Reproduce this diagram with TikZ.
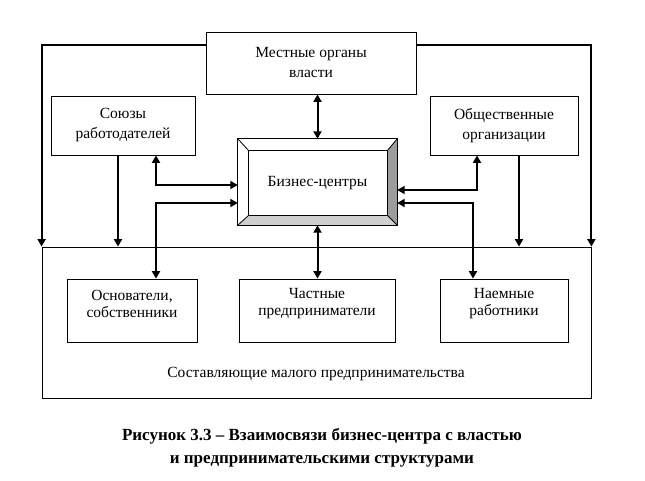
\documentclass[tikz,border=0pt]{standalone}
\usepackage{fontspec}
\setmainfont{Liberation Serif}
\usetikzlibrary{arrows.meta,calc}
\begin{document}
\begin{tikzpicture}[x=1pt,y=-1pt,
  box/.style={draw, line width=0.8pt, inner sep=0pt, align=center, font=\fontsize{15.5}{20}\selectfont},
  txt/.style={inner sep=0pt, align=center, font=\fontsize{15.5}{17}\selectfont},
  arr/.style={line width=2pt, >={Triangle[length=7.5pt,width=8pt]}},
  thin/.style={line width=0.8pt},
]
\useasboundingbox (0,0) rectangle (645,481);
% big box
\node[box, minimum width=549pt, minimum height=151pt] (big) at (316.5,322.5) {};
\node[txt] (lbl) at (316,374) {Составляющие малого предпринимательства};
% top boxes
\node[box, minimum width=210pt, minimum height=62pt] (top) at (311,63) {Местные органы\\власти};
\node[box, minimum width=144pt, minimum height=59pt] (soyuz) at (123,125.5) {Союзы\\работодателей};
\node[box, minimum width=148pt, minimum height=59pt] (obsh) at (504,125.5) {Общественные\\организации};
% bottom boxes
\node[box, minimum width=130pt, minimum height=63pt] (osn) at (132,310.5) {};
\node[txt] (osnt) at (132,304) {Основатели,\\собственники};
\node[box, minimum width=156pt, minimum height=63pt] (chast) at (317,310.5) {};
\node[txt] (chastt) at (317,304) {Частные\\предприниматели};
\node[box, minimum width=128pt, minimum height=63pt] (naem) at (504,310.5) {};
\node[txt] (naemt) at (504,304) {Наемные\\работники};
% center beveled box
\node[inner sep=0pt, minimum width=159pt, minimum height=86pt] (center) at (317.5,182) {};
\coordinate (inw) at ($(center.north west)+(11,12)$);
\coordinate (ine) at ($(center.north east)+(-10,12)$);
\coordinate (isw) at ($(center.south west)+(11,-10)$);
\coordinate (ise) at ($(center.south east)+(-10,-10)$);
\fill[gray!78] (center.north east) -- (center.south east) -- (ise) -- (ine) -- cycle;
\fill[gray!38] (center.south west) -- (center.south east) -- (ise) -- (isw) -- cycle;
\draw[thin] (center.north west) rectangle (center.south east);
\draw[thin] (inw) rectangle (ise);
\draw[thin] (center.north west) -- (inw) (center.north east) -- (ine)
  (center.south west) -- (isw) (center.south east) -- (ise);
\node[txt] (ct) at ($(center)+(0,1)$) {Бизнес-центры};
% connectors
\draw[arr,<->] (center.north) -- (center.north |- top.south);
\draw[arr,<->] (center.south) -- (center.south |- chast.north);
\draw[arr,->] ($(top.west)+(0,-18)$) -| (big.north west);
\draw[arr,->] ($(top.east)+(0,-18)$) -| (big.north east);
\coordinate (s1) at ($(soyuz.south)+(-5,0)$);
\draw[arr,->] (s1) -- (s1 |- big.north);
\draw[arr,<->] ($(soyuz.south)+(33,0)$) |- ($(center.west)+(0,3)$);
\draw[arr,<->] ($(center.west)+(0,21)$) -| ($(osn.north)+(24,0)$);
\coordinate (o1) at ($(obsh.south)+(15,0)$);
\draw[arr,->] (o1) -- (o1 |- big.north);
\draw[arr,<->] ($(obsh.south)+(-27,0)$) |- ($(center.east)+(0,8)$);
\draw[arr,<->] ($(center.east)+(0,21)$) -| ($(naem.north)+(-31,0)$);
% caption
\node[inner sep=0pt, align=center, font=\fontsize{17}{23}\selectfont\bfseries] (cap) at (322,448)
  {Рисунок 3.3 – Взаимосвязи бизнес-центра с властью\\и предпринимательскими структурами};
\end{tikzpicture}
\end{document}
